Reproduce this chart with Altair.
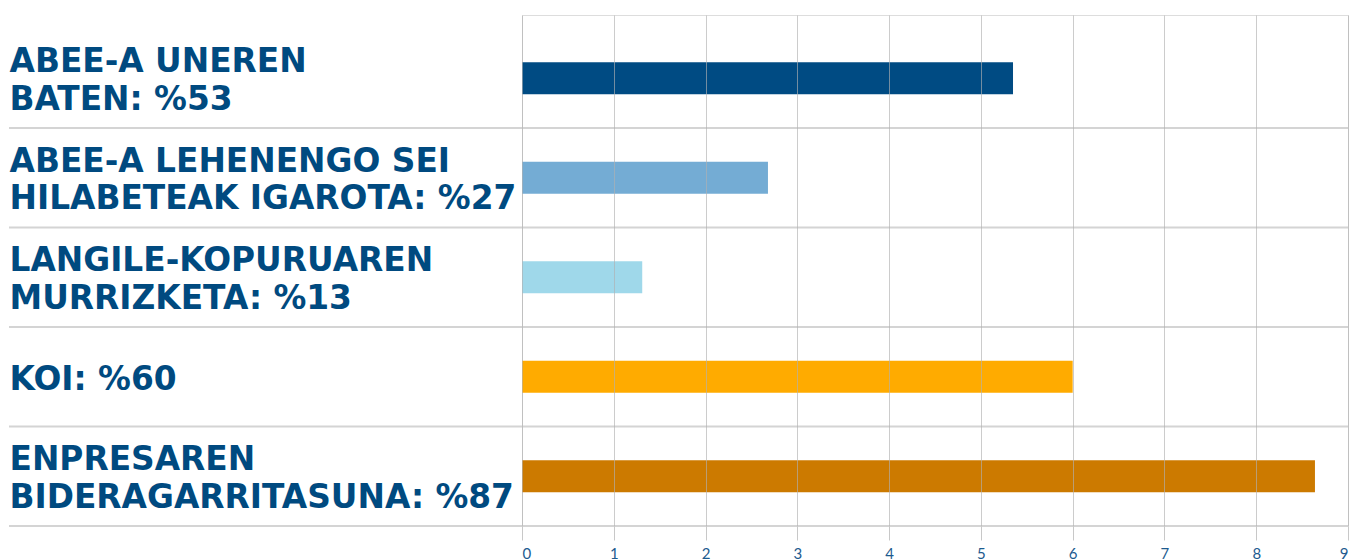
import altair as alt
import pandas as pd

categories = [
    "ABEE-A UNEREN\nBATEN: %53",
    "ABEE-A LEHENENGO SEI\nHILABETEAK IGAROTA: %27",
    "LANGILE-KOPURUAREN\nMURRIZKETA: %13",
    "KOI: %60",
    "ENPRESAREN\nBIDERAGARRITASUNA: %87",
]
values = [5.35, 2.68, 1.31, 6.0, 8.64]
colors = ["#004b83", "#74acd4", "#9fd8ea", "#ffab00", "#cc7a00"]
x_ticks = [0, 1, 2, 3, 4, 5, 6, 7, 8, 9]

df = pd.DataFrame({"cat": categories, "value": values})

W, H = 826, 511
yscale = alt.Scale(domain=categories, paddingInner=0, paddingOuter=0.0678, align=1)

bars = alt.Chart(df).mark_bar(size=32).encode(
    x=alt.X(
        "value:Q",
        scale=alt.Scale(domain=[0, 9], nice=False),
        axis=alt.Axis(
            values=x_ticks,
            title=None,
            domain=False,
            grid=True,
            gridColor="#b0b0b0",
            gridOpacity=0.65,
            gridWidth=1,
            ticks=True,
            tickSize=14,
            tickColor="#c8c8c8",
            labelFont="Lato",
            labelFontSize=15,
            labelColor="#1d5b8f",
            labelPadding=6,
            zindex=1,
        ),
    ),
    y=alt.Y(
        "cat:N",
        sort=categories,
        scale=yscale,
        axis=alt.Axis(
            title=None,
            domain=False,
            ticks=False,
            tickSize=0,
            grid=False,
            labelAlign="left",
            labelBaseline="middle",
            labelPadding=513,
            labelLimit=0,
            labelFont="DejaVu Sans",
            labelFontWeight="bold",
            labelFontSize=32.8,
            labelLineHeight=37.5,
            labelColor="#004a80",
            labelOffset={"condition": {"test": "indexof(datum.label, '\\n') >= 0", "value": -16}, "value": 3},
            labelExpr="split(datum.label, '\\n')",
        ),
    ),
    color=alt.Color("cat:N", scale=alt.Scale(domain=categories, range=colors), legend=None),
)

seps = alt.Chart(df).mark_rule(color="#d4d4d4", strokeWidth=2).encode(
    y=alt.Y("cat:N", sort=categories, scale=yscale, bandPosition=1),
    x=alt.value(-513),
    x2=alt.value(W),
)

chart = (
    alt.layer(bars, seps)
    .properties(width=W, height=H, padding={"left": 0, "top": 7, "right": 5, "bottom": 0})
    .configure_view(stroke=None)
    .configure(background="white")
)

chart.save("out.html", embed_options={"renderer": "svg", "actions": False})
